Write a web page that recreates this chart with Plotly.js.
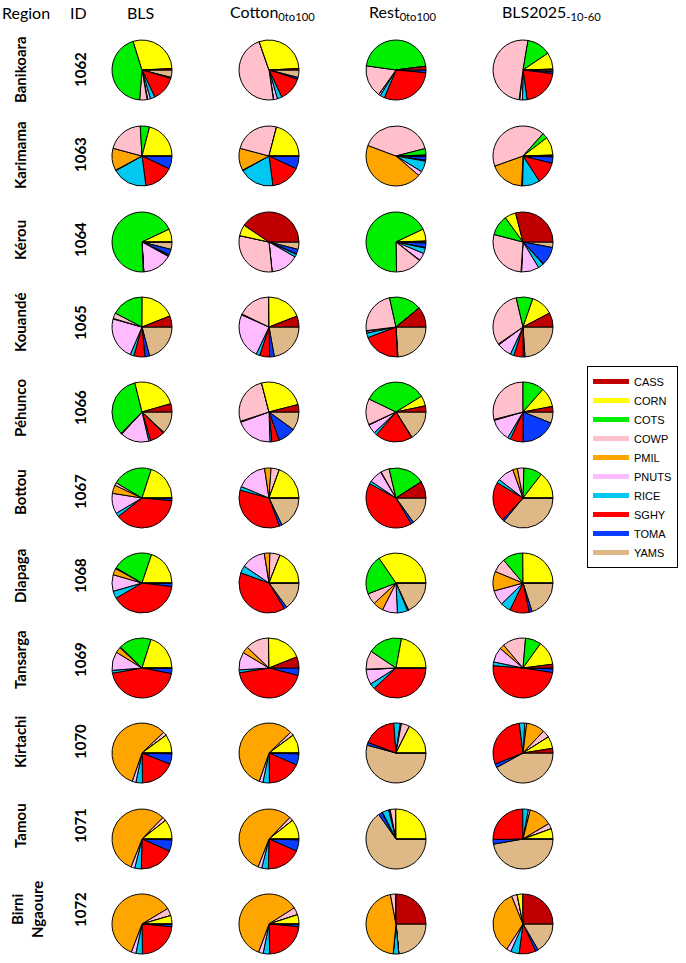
<!DOCTYPE html>
<html>
<head>
<meta charset="utf-8">
<script src="https://cdn.plot.ly/plotly-3.0.1.min.js"></script>
<style>html,body{margin:0;padding:0;background:#fff;}#chart{width:686px;height:963px;}</style>
</head>
<body>
<div id="chart"></div>
<script>
// ---- data ----
const categories = ['CASS','CORN','COTS','COWP','PMIL','PNUTS','RICE','SGHY','TOMA','YAMS'];
const colors = ['#C00000','#FFFF00','#00EE00','#FFC0CB','#FFA500','#FFBBFF','#00C8F0','#FF0000','#0A3CFF','#DEB887'];
const regions = ['Banikoara','Karimama','Kérou','Kouandé','Péhunco','Bottou','Diapaga','Tansarga','Kirtachi','Tamou','Birni<br>Ngaoure'];
const ids = ['1062','1063','1064','1065','1066','1067','1068','1069','1070','1071','1072'];
const scenarios = ['BLS','Cotton<sub>0to100</sub>','Rest<sub>0to100</sub>','BLS2025<sub>-10-60</sub>'];

// shares (%) per region, in category order
const BLS = [
  [0.8,29,44,4,0.3,1.5,2.5,13.5,0.5,4],
  [0,21,5,20,12,0.3,19,16,7,0],
  [0,7,68.5,0.3,0,16,0.3,0.7,3,4],
  [6,19,17.5,3,0.3,23,2,6,2.5,21],
  [4.5,24.5,34,0.3,0.3,15.5,1,8,0.5,12],
  [0,20,21.5,1.5,4.5,11,2,38,1.5,0],
  [0,20,22,0.5,3.5,9,4,40,2,0],
  [0,20,17.5,0.5,3,10,1.5,44,3,0],
  [0,10,0,2,57,2,3.5,18.5,5.5,0.5],
  [0,10.5,0,2,55.5,2,3.5,18.5,6,0.5],
  [0,4.5,0,4,60,2.5,3.5,23,1.5,0]
];
const Cotton = [
  [0.8,29.5,0,47,0.2,2,2.5,13,1,4],
  [0,21,0,25,12,0.3,19,16,7,0],
  [40.5,6,0,30,0,15,1.5,0.3,2.5,4],
  [6,19.5,0,18,0.5,25,2,5.5,2.5,22.5],
  [4,25,0,26,0.5,20,1,4,9.5,10],
  [0,19.5,0,4.5,3.5,16.5,2,35,1.5,18],
  [0,19,0,5.5,3,13,4,39,1.5,15],
  [6,19,0,12.5,3.5,9.5,1.5,43,4,0],
  [0,10,0,2,57,2,3.5,18,6,0.5],
  [0,10.5,0,2,55.5,2,3.5,18.5,6,0.5],
  [0,5,0,4,60,2.5,3.5,23,1.5,0]
];
const Rest = [
  [2,0,46,17.5,0,1,2.5,30,1.5,0],
  [0,0.5,3.5,40.5,44.7,2.5,6,0.5,2,0.3],
  [0.5,6.5,68,14,0.3,4,3,0.3,2.5,0.5],
  [11,0,17.5,23.5,0.3,1,2.5,20,0.3,24],
  [3.3,5.5,34,14,0.3,5,1.5,20,0.3,16],
  [9,0,19.5,4.5,0.3,7,1.5,41,1.5,15],
  [0,34,21,6,5.5,8,5.5,0.3,0.3,17.8],
  [0,22,18.5,10,0.3,8,3,38,0,0],
  [0,17.5,0,4.5,0.3,0.3,3.5,18,1.5,54],
  [0,25,0,3,0.3,0.5,3.5,0.3,2,65],
  [25,0,0,3,45.5,0,3,0,0,23.5]
];
const BLS2025 = [
  [0.5,9,13,51,0.3,1.5,2.5,21,1,1],
  [0.5,10,3,42.5,19,0.5,9.5,12,3.5,0.5],
  [29,6,11,28,0.3,9.5,3,0.3,10,3],
  [7.7,12,9,31,0.5,8,2,5,1,24],
  [3,10.5,11.5,29,0.5,12,1.5,7,19,6],
  [0,14.5,10,3.5,2.5,9,2,21.5,1,36],
  [0,25,11,7.5,10.5,8,5.5,10.5,1.5,20],
  [2,13,8.5,12.5,2.5,8,2,48.5,2,0.5],
  [2.5,6.5,0,4,10,1,3,29,2,42],
  [0,5.5,0,3,12.5,1,3,25,2.5,47],
  [25,3,0,3,34.5,2.5,4.5,9,1.5,16.5]
];
const scenarioData = [BLS, Cotton, Rest, BLS2025];

// ---- layout geometry (pixels) ----
const W = 686, H = 963;
const colX = [142, 269, 396, 523];
const rowY = [70, 156, 242, 327, 412, 498, 583, 668, 753, 839, 924];
const labelY = [70, 155, 240, 323, 408, 492, 576, 660, 742, 826, 910];
const R = 30;

const traces = [];
const revCats = categories.slice().reverse();
const revCols = colors.slice().reverse();
scenarioData.forEach((data, c) => {
  data.forEach((row, r) => {
    traces.push({
      type: 'pie',
      labels: revCats,
      values: row.slice().reverse(),
      sort: false,
      direction: 'clockwise',
      rotation: 90,
      textinfo: 'none',
      hoverinfo: 'label+percent',
      showlegend: false,
      marker: {colors: revCols, line: {color: '#000', width: 1}},
      domain: {
        x: [(colX[c] - R) / W, (colX[c] + R) / W],
        y: [1 - (rowY[r] + R) / H, 1 - (rowY[r] - R) / H]
      }
    });
  });
});
// legend entries
categories.forEach((cat, i) => {
  traces.push({
    type: 'scatter', mode: 'lines', x: [null], y: [null],
    name: cat, line: {color: colors[i], width: 5}, showlegend: true, hoverinfo: 'skip'
  });
});

const annotations = [];
const hdrFont = {family: 'Lato, "Open Sans", sans-serif', size: 16, color: '#000'};
const hdrX = [125, 228, 367, 500];
annotations.push({text: 'Region', x: 0, xanchor: 'left', y: 1 - 12 / H, yanchor: 'middle', xref: 'paper', yref: 'paper', showarrow: false, font: hdrFont});
annotations.push({text: 'ID', x: 68 / W, xanchor: 'left', y: 1 - 12 / H, yanchor: 'middle', xref: 'paper', yref: 'paper', showarrow: false, font: hdrFont});
scenarios.forEach((s, i) => {
  annotations.push({text: s, x: hdrX[i] / W, xanchor: 'left', y: 1 - 12 / H, yanchor: 'middle', xref: 'paper', yref: 'paper', showarrow: false, font: hdrFont});
});
const lblFont = {family: 'Lato, "Open Sans", sans-serif', size: 15, color: '#000'};
regions.forEach((reg, r) => {
  const multi = reg.indexOf('<br>') >= 0;
  annotations.push({text: '<b>' + reg + '</b>', x: (multi ? 27 : 20) / W, xanchor: 'center', y: 1 - labelY[r] / H, yanchor: 'middle',
    xref: 'paper', yref: 'paper', showarrow: false, textangle: -90, font: lblFont});
  annotations.push({text: '<b>' + ids[r] + '</b>', x: 80 / W, xanchor: 'center', y: 1 - labelY[r] / H, yanchor: 'middle',
    xref: 'paper', yref: 'paper', showarrow: false, textangle: -90, font: lblFont});
});

const layout = {
  width: W, height: H,
  margin: {l: 0, r: 0, t: 0, b: 0},
  paper_bgcolor: '#fff', plot_bgcolor: '#fff',
  xaxis: {visible: false}, yaxis: {visible: false},
  showlegend: true,
  legend: {
    x: 587 / W, xanchor: 'left', y: 1 - 366 / H, yanchor: 'top',
    bordercolor: '#000', borderwidth: 1, bgcolor: '#fff',
    itemwidth: 36,
    font: {family: '"Liberation Sans", Arial, sans-serif', size: 11, color: '#000'},
    traceorder: 'normal'
  },
  annotations: annotations
};

Plotly.newPlot('chart', traces, layout, {staticPlot: true, displayModeBar: false});
</script>
</body>
</html>
